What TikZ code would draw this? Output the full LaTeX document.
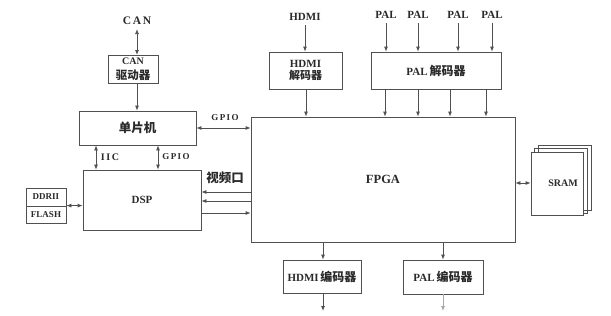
\documentclass[tikz,border=0pt]{standalone}
\usepackage{fontspec}
\setmainfont{Liberation Serif}
\newfontfamily\cjk{Noto Sans CJK SC}
\newfontfamily\spaced{Liberation Serif}[LetterSpace=15]
\usetikzlibrary{arrows.meta}
\definecolor{ln}{HTML}{505050}
\definecolor{tx}{HTML}{2A2A2A}
\tikzset{
  box/.style={draw=ln, line width=0.8pt, inner sep=0pt, text=tx, align=center, font=\bfseries\fontsize{11}{12}\selectfont},
  lbl/.style={inner sep=1pt, text=tx, font=\bfseries\fontsize{11}{12}\selectfont},
  arr/.style={draw=ln, line width=0.8pt, -{Latex[length=5pt,width=4pt]}},
  darr/.style={draw=ln, line width=0.8pt, {Latex[length=5pt,width=4pt]}-{Latex[length=5pt,width=4pt]}},
}
\begin{document}
\begin{tikzpicture}[x=1pt,y=-1pt]
\useasboundingbox (0,0) rectangle (611,316);
% boxes
\node[box, minimum width=50pt, minimum height=28pt, font=\bfseries\fontsize{10}{11.5}\selectfont] (can) at (133,69) {\raisebox{3pt}{CAN}\\[1pt]{\cjk\fontsize{11.5}{12}\selectfont 驱动器}};
\node[box, minimum width=117pt, minimum height=34pt] (mcu) at (137.5,128) {\cjk\fontsize{12.5}{13}\selectfont 单片机};
\node[box, minimum width=118pt, minimum height=60pt] (dsp) at (142,200) {\raisebox{-3pt}{DSP}};
\node[box, minimum width=40pt, minimum height=18pt, font=\bfseries\fontsize{9}{10}\selectfont] (ddr) at (46,197) {DDRII};
\node[box, minimum width=40pt, minimum height=17pt, font=\bfseries\fontsize{9}{10}\selectfont] (flash) at (46,214.5) {FLASH};
\node[box, minimum width=264pt, minimum height=125pt, font=\bfseries\fontsize{12.5}{13}\selectfont] (fpga) at (383,179.5) {\raisebox{-6pt}{FPGA}};
\node[box, minimum width=73pt, minimum height=37pt] (hdmidec) at (305.5,70.5) {HDMI\\{\cjk\fontsize{11}{12}\selectfont 解码器}};
\node[box, minimum width=130pt, minimum height=37pt] (paldec) at (436,70.5) {PAL\,{\cjk\fontsize{12}{12}\selectfont 解码器}};
\node[box, minimum width=78pt, minimum height=33pt] (hdmienc) at (322,276.5) {HDMI\,{\cjk\fontsize{12}{12}\selectfont 编码器}};
\node[box, minimum width=80pt, minimum height=34pt] (palenc) at (443,277) {PAL\,{\cjk\fontsize{12}{12}\selectfont 编码器}};
% SRAM stack
\node[box, minimum width=53pt, minimum height=65pt] (sram3) at (564.5,177.5) {};
\node[box, minimum width=53pt, minimum height=65pt] (sram2) at (560.5,180.5) {};
\node[box, minimum width=52pt, minimum height=63pt, fill=white] (sram) at (557,183.5) {};
\node[lbl, font=\bfseries\fontsize{10}{11}\selectfont] (sramt) at (563,183) {SRAM};
% labels
\node[lbl, font=\spaced\bfseries\fontsize{11.5}{12}\selectfont] (canl) at (137,21) {CAN};
\node[lbl] (hdmil) at (305,17) {HDMI};
\node[lbl] (pal1) at (386,15) {PAL};
\node[lbl] (pal2) at (418,15) {PAL};
\node[lbl] (pal3) at (458,15) {PAL};
\node[lbl] (pal4) at (492,15) {PAL};
\node[lbl, font=\spaced\bfseries\fontsize{9}{10}\selectfont] (gpio1) at (225,118) {GPIO};
\node[lbl, font=\spaced\bfseries\fontsize{10}{10}\selectfont] (iic) at (110,157) {IIC};
\node[lbl, font=\spaced\bfseries\fontsize{9}{10}\selectfont] (gpio2) at (176,157) {GPIO};
\node[lbl, font=\cjk\bfseries\fontsize{12.5}{13}\selectfont] (video) at (225,178) {视频口};
% free ends
\coordinate (hdmiout) at (323,311);
\coordinate (palout) at (443,311);
% connectors
\draw[darr] (canl.south -| 137,0) ++(0,3) -- (137,55);
\draw[arr] (can.south -| 137,0) -- (mcu.north -| 137,0);
\draw[darr] (mcu.east |- 0,128) -- (fpga.west |- 0,128);
\draw[darr] (mcu.south -| 96,0) -- (dsp.north -| 96,0);
\draw[darr] (mcu.south -| 158,0) -- (dsp.north -| 158,0);
\draw[darr] (flash.north east) -- (dsp.west |- flash.north east);
\draw[arr] (fpga.west |- 0,192) -- (dsp.east |- 0,192);
\draw[arr] (fpga.west |- 0,201) -- (dsp.east |- 0,201);
\draw[arr] (dsp.east |- 0,213) -- (fpga.west |- 0,213);
\draw[arr] (hdmil.south -| 305,0) ++(0,3) -- (hdmidec.north -| 305,0);
\draw[arr] (hdmidec.south -| 306,0) -- (fpga.north -| 306,0);
\foreach \p/\x in {pal1/386,pal2/418,pal3/458,pal4/492}{
  \draw[arr] (\p.south -| \x,0) ++(0,3) -- (paldec.north -| \x,0);
}
\foreach \x in {385,418,450,486}{
  \draw[arr] (paldec.south -| \x,0) -- (fpga.north -| \x,0);
}
\draw[arr] (fpga.south -| 323,0) -- (hdmienc.north -| 323,0);
\draw[arr] (fpga.south -| 443,0) -- (palenc.north -| 443,0);
\draw[arr] (hdmienc.south -| 323,0) -- (hdmiout);
\draw[arr, draw=ln!50] (palenc.south -| 443,0) -- (palout);
\draw[darr] (fpga.east |- 0,183) -- (sram.west |- 0,183);
\end{tikzpicture}
\end{document}
